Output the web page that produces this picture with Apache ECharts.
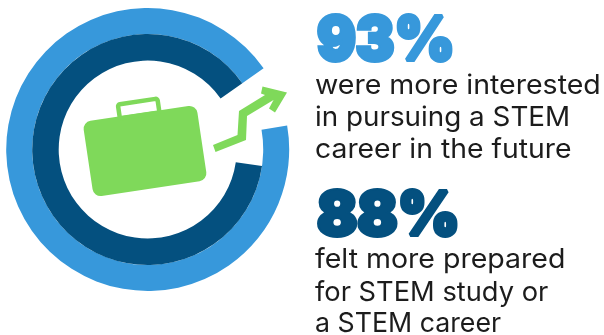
<!DOCTYPE html>
<html>
<head>
<meta charset="utf-8">
<style>html,body{margin:0;padding:0;background:#fff}#chart{width:604px;height:335px}</style>
<script src="https://cdn.jsdelivr.net/npm/echarts@6/dist/echarts.min.js"></script>
</head>
<body>
<div id="chart"></div>
<script>
// Survey results shown as two concentric progress rings
const percentages = [93, 88];
const ringColors = ['#3798DB', '#04507F'];
const descriptions = [
  ['were more interested', 'in pursuing a STEM', 'career in the future'],
  ['felt more prepared', 'for STEM study or', 'a STEM career']
];

const GREEN = '#7FD95A';
const FONT = 'Inter, "Open Sans", sans-serif';

function ring(value, color, inner, outer) {
  return {
    type: 'pie',
    silent: true,
    clockwise: false,
    startAngle: 35,
    center: [147.7, 149.5],
    radius: [inner, outer],
    label: { show: false },
    labelLine: { show: false },
    animation: false,
    data: [
      { value: value, itemStyle: { color: color } },
      { value: 100 - value, itemStyle: { color: 'transparent' } }
    ]
  };
}

// Big percentage followed by its three description lines
function textBlock(i, bigY, lineYs, bigScale, lineScales) {
  const items = [{
    type: 'text', x: 317, y: bigY, scaleX: bigScale,
    style: {
      text: percentages[i] + '%', fill: ringColors[i],
      stroke: ringColors[i], lineWidth: 4,
      font: '900 60px ' + FONT, align: 'left', verticalAlign: 'middle'
    }
  }];
  descriptions[i].forEach(function (line, k) {
    items.push({
      type: 'text', x: 315, y: lineYs[k], scaleX: lineScales[k],
      style: {
        text: line, fill: '#1c1c1c',
        font: '400 27px ' + FONT, align: 'left', verticalAlign: 'middle'
      }
    });
  });
  return items;
}

// Briefcase and rising arrow in the centre of the rings
const icon = [
  {
    type: 'group', x: 145, y: 151, rotation: 8.5 * Math.PI / 180,
    children: [
      { type: 'rect', shape: { x: -57.5, y: -38, width: 115, height: 76, r: 8 }, style: { fill: GREEN } },
      { type: 'rect', shape: { x: -20, y: -50, width: 40, height: 14, r: 2 }, style: { fill: 'none', stroke: GREEN, lineWidth: 4.5 } }
    ]
  },
  {
    type: 'polygon',
    shape: {
      points: [[213, 145], [237.5, 135], [239, 111], [265, 95], [261, 93.5], [262.5, 86.5], [287, 92.5], [275, 112.5], [269, 108.5], [273.5, 100], [247, 116], [246, 140], [215.5, 152]]
    },
    style: { fill: GREEN }
  }
];

const chart = echarts.init(document.getElementById('chart'), null, { renderer: 'canvas' });
chart.setOption({
  animation: false,
  backgroundColor: '#fff',
  series: [
    ring(percentages[0], ringColors[0], 115.5, 141.5),
    ring(percentages[1], ringColors[1], 89, 115.5)
  ],
  graphic: icon
    .concat(textBlock(0, 41.5, [86, 118, 150], 0.96, [1.056, 1.03, 1.05]))
    .concat(textBlock(1, 216.5, [260, 293, 324], 0.99, [1.056, 1.01, 0.99]))
});
</script>
</body>
</html>
